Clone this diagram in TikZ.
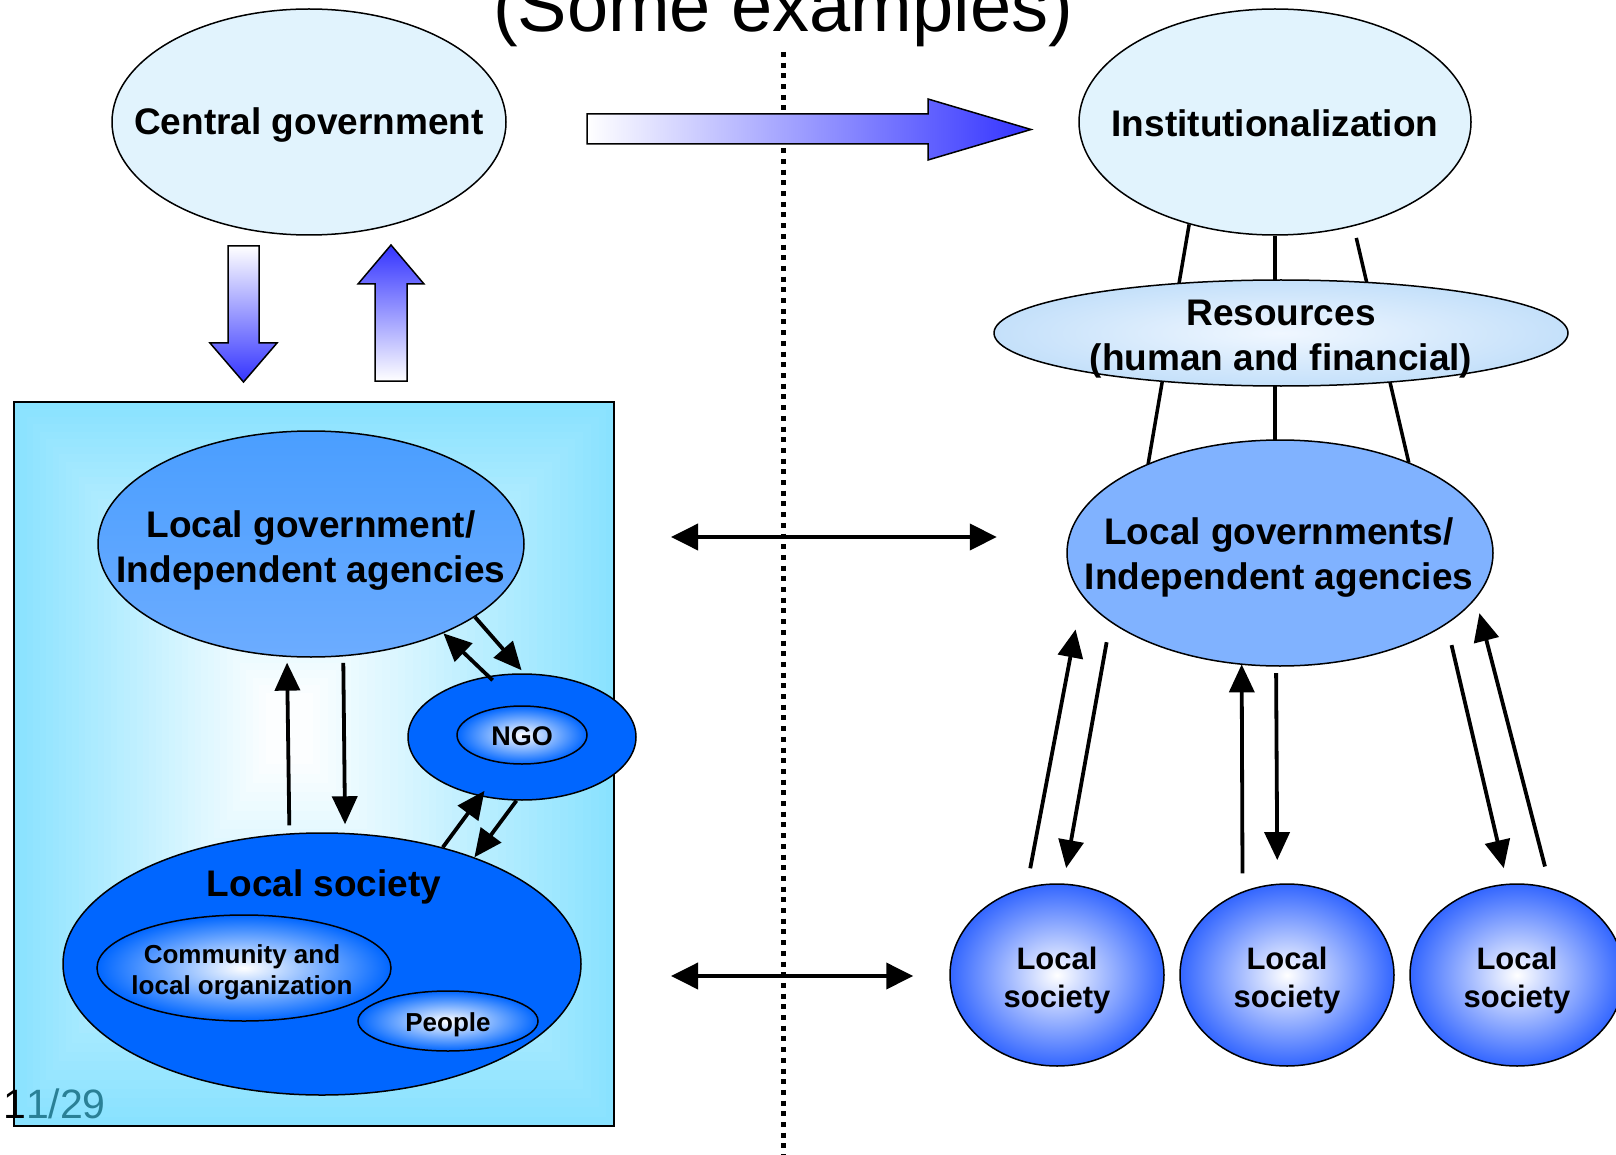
\documentclass[tikz,border=0pt]{standalone}
\usepackage{fontspec}
\setmainfont{Liberation Sans}
\usetikzlibrary{shapes.geometric,arrows.meta}
\definecolor{paleblue}{RGB}{225,243,253}
\definecolor{boxcyan}{RGB}{137,226,255}
\definecolor{lgtop}{RGB}{74,158,255}
\definecolor{lgbot}{RGB}{108,172,255}
\definecolor{lgright}{RGB}{128,178,255}
\definecolor{deepblue}{RGB}{0,102,255}
\definecolor{circblue}{RGB}{51,102,255}
\definecolor{arrblue}{RGB}{51,51,255}
\definecolor{resout}{RGB}{196,224,250}
\definecolor{resin}{RGB}{240,247,255}
\definecolor{pagenum}{RGB}{42,128,150}
\tikzset{
  ell/.style={ellipse, draw=black, line width=1.5pt, inner sep=0pt},
  lbl/.style={font=\fontsize{37}{45}\selectfont\bfseries, align=center, inner sep=0pt},
  lblm/.style={font=\fontsize{31}{38}\selectfont\bfseries, align=center, inner sep=0pt},
  lbls/.style={font=\fontsize{26}{31}\selectfont\bfseries, align=center, inner sep=0pt},
  conn/.style={line width=3.8pt, -{Triangle[length=28pt,width=25pt]}},
  dbl/.style={line width=3.8pt, {Triangle[length=27pt,width=26pt]}-{Triangle[length=27pt,width=26pt]}},
  tie/.style={line width=3.5pt},
  blockarrow/.style={draw=black, line width=1.5pt},
}
\begin{document}
\begin{tikzpicture}[x=1pt,y=-1pt]
\useasboundingbox (0,0) rectangle (1616,1155);
\fill[white] (0,0) rectangle (1616,1155);

% title
\node[font=\fontsize{74}{80}\selectfont, anchor=base, inner sep=0pt] (title) at (783,32) {(Some examples)};

% divider
\draw[line width=5pt, dash pattern=on 5pt off 5.7pt] (783,52) -- (783,1160);

% left box with rectangular gradient
\foreach \i in {0,...,39}{
  \pgfmathsetmacro\t{\i/40}
  \pgfmathsetmacro\xa{14+\t*(272-14)}
  \pgfmathsetmacro\ya{402+\t*(700-402)}
  \pgfmathsetmacro\xb{614-\t*(614-305)}
  \pgfmathsetmacro\yb{1126-\t*(1126-755)}
  \pgfmathsetmacro\c{100*(1-\t)}
  \fill[boxcyan!\c!white] (\xa,\ya) rectangle (\xb,\yb);
}
\node[draw=black, line width=2pt, minimum width=600pt, minimum height=724pt, inner sep=0pt] (box) at (314,764) {};

% page number
\node[anchor=base west, inner sep=0pt, font=\fontsize{41}{44}\selectfont] (pnum) at (3,1118) {\textcolor{black}{1}\textcolor{pagenum}{1/29}};

% top ellipses
\node[ell, fill=paleblue, minimum width=394pt, minimum height=226pt] (cg) at (309,122) {};
\node[lbl] (cgt) at (309,125) {Central government};
\node[ell, fill=paleblue, minimum width=392pt, minimum height=226pt] (inst) at (1275,122) {};
\node[lbl] (instt) at (1275,123) {Institutionalization};

% block arrows
\draw[blockarrow, left color=white, right color=arrblue]
  (587,114) -- (928,114) -- (928,99) -- (1031,129.5) -- (928,160) -- (928,144) -- (587,144) -- cycle;
\draw[blockarrow, top color=white, bottom color=arrblue]
  (228,246) -- (259,246) -- (259,343) -- (277,343) -- (243.5,382) -- (210,343) -- (228,343) -- cycle;
\draw[blockarrow, top color=arrblue, bottom color=white]
  (375,381) -- (375,284) -- (358,284) -- (391,245) -- (424,284) -- (407,284) -- (407,381) -- cycle;

% left side
\node[ell, top color=lgtop, bottom color=lgbot, minimum width=426pt, minimum height=226pt] (lgL) at (311,544) {};
\node[lbl] (lgLt) at (311,551) {Local government/\\Independent agencies};
\node[ell, fill=deepblue, minimum width=518pt, minimum height=262pt] (ls) at (322,964) {};
\node[lbl] (lst) at (324,887) {Local society};
\node[ell, inner color=white, outer color=deepblue, minimum width=294pt, minimum height=106pt] (com) at (244,968) {};
\node[lbls] (comt) at (242,972) {Community and\\local organization};
\node[ell, inner color=white, outer color=deepblue, minimum width=180pt, minimum height=60pt] (ppl) at (448,1021) {};
\node[lbls] (pplt) at (448,1025) {People};
\node[ell, fill=deepblue, minimum width=228pt, minimum height=126pt] (ngo) at (522,737) {};
\node[ell, inner color=white, outer color=deepblue, minimum width=130pt, minimum height=58pt] (ngoin) at (522,735) {};
\node[font=\fontsize{27}{30}\selectfont\bfseries, inner sep=0pt] (ngot) at (522,736) {NGO};

\draw[conn, shorten <=8pt, shorten >=5.6pt] (ls.104.3) -- (lgL.258.9);
\draw[conn, shorten <=6.4pt, shorten >=8.5pt] (lgL.286.5) -- (ls.80.4);
\draw[conn, shorten <=-6pt] (ngo.119.9) -- (lgL.-34.2);
\draw[conn, shorten >=4pt] (lgL.-24.7) -- (ngo.88);
\draw[conn, shorten >=-7pt] (ls.44.8) -- (ngo.235);
\draw[conn] (ngo.265.5) -- (ls.35.1);

% right side: geometry of local governments ellipse (drawn later)
\path node[ellipse, inner sep=0pt, minimum width=426pt, minimum height=226pt] (lgR) at (1280,553) {};

% ties
\draw[tie] (inst.230) -- (lgR.146.8);
\draw[tie, shorten <=12pt] (inst.307.1) -- (lgR.35);
\draw[tie] (inst.south) -- (inst.south |- lgR.north);

\node[ell, inner color=resin, outer color=resout, minimum width=574pt, minimum height=106pt] (res) at (1281,333) {};
\node[lbl] (rest) at (1281,339) {Resources\\(human and financial)};

\node[ell, fill=lgright, minimum width=426pt, minimum height=226pt] (lgRfill) at (lgR) {};
\node[lbl] (lgRt) at (1279,558) {Local governments/\\Independent agencies};

\foreach \n/\x in {c1/1057, c2/1287, c3/1517}{
  \node[ell, inner color=white, outer color=circblue, minimum width=214pt, minimum height=182pt] (\n) at (\x,975) {};
  \node[lblm] (\n t) at (\x,980) {Local\\society};
}

\draw[conn, shorten <=19pt, shorten >=35pt] (c1.109.3) -- (lgR.192.2);
\draw[conn, shorten <=21pt, shorten >=15.6pt] (lgR.202.4) -- (c1.86.8);
\draw[conn, shorten <=18pt] (c2.118) -- (lgR.251.6);
\draw[conn, shorten <=7pt, shorten >=23.5pt] (lgR.268) -- (c2.96.9);
\draw[conn, shorten <=22pt, shorten >=15.8pt] (lgR.337.2) -- (c3.96.6);
\draw[conn, shorten <=22pt, shorten >=15.5pt] (c3.69.6) -- (lgR.347.4);

% horizontal double arrows
\coordinate (h1) at (0,537);
\coordinate (h2) at (0,976);
\draw[dbl, shorten <=56pt, shorten >=70pt] (box.east |- h1) -- (lgR.west |- h1);
\draw[dbl, shorten <=56pt, shorten >=36pt] (box.east |- h2) -- (c1.west |- h2);
\end{tikzpicture}
\end{document}
